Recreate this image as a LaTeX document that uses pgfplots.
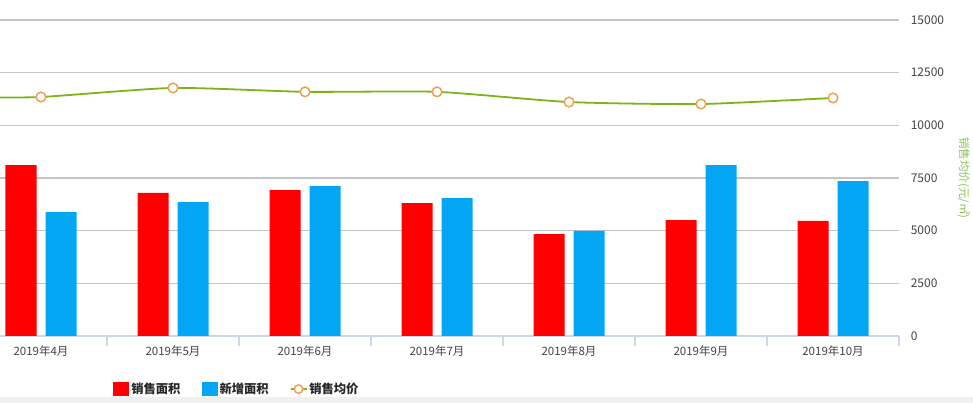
\documentclass[border=0pt]{standalone}
\usepackage{pgfplots}
\pgfplotsset{compat=1.18}
\usepackage{fontspec}
\setmainfont{Noto Sans CJK SC}
\definecolor{barred}{RGB}{255,0,0}
\definecolor{barblue}{RGB}{3,166,242}
\definecolor{linegreen}{RGB}{124,181,24}
\definecolor{mkorange}{RGB}{240,160,80}
\definecolor{gridc}{RGB}{196,196,200}
\definecolor{axc}{RGB}{204,214,235}
\definecolor{labgreen}{RGB}{144,192,96}
\definecolor{tickc}{RGB}{68,68,68}
\begin{document}
\begin{tikzpicture}[x=1pt,y=1pt]
\useasboundingbox (0,0) rectangle (973,403);
\fill[white] (0,0) rectangle (973,403);
\fill[black!6] (0,0) rectangle (973,6);
\clip (0,0) rectangle (973,403);
\begin{axis}[
  at={(-25pt,67pt)}, anchor=south west,
  scale only axis, width=924pt, height=316pt,
  xmin=-0.5, xmax=6.5, ymin=0, ymax=15000,
  axis y line*=right, axis x line*=bottom,
  y axis line style={draw=none},
  x axis line style={draw=axc, line width=1.2pt},
  ytick={0,2500,...,15000},
  scaled y ticks=false,
  yticklabels={0,2500,5000,7500,10000,12500,15000},
  ymajorgrids, major grid style={draw=gridc, line width=1.2pt},
  ytick style={draw=none},
  yticklabel style={anchor=west, xshift=4pt, font=\fontsize{12}{14}\selectfont, text=tickc},
  xtick={0,...,6},
  xticklabels={2019年4月,2019年5月,2019年6月,2019年7月,2019年8月,2019年9月,2019年10月},
  xticklabel style={font=\fontsize{11.5}{13}\selectfont, text=tickc, yshift=-2pt},
  major x tick style={draw=none},
  minor xtick={-0.5,0.5,...,6.5},
  minor x tick style={draw=axc, line width=1.2pt},
  tick align=outside, minor tick length=10pt,
  /pgf/number format/assume math mode=true,
  ylabel={销售均价(元/㎡)},
  ylabel style={at={(axis description cs:1.07,0.5)}, anchor=center, rotate=180, text=labgreen, font=\fontsize{11.5}{13}\selectfont},
  legend style={at={(axis description cs:0.2835,-0.168)}, anchor=center, draw=none, fill=none,
    legend columns=-1, font=\bfseries\fontsize{12.3}{14}\selectfont, text=black!85,
    /tikz/every even column/.append style={column sep=19pt}},
  clip=false,
]
\addplot[ybar, bar width=31pt, bar shift=-20pt, fill=barred, draw=none,
  legend image code/.code={\fill[barred] (0pt,-6.5pt) rectangle (16pt,7pt);}]
  coordinates {(0,8116) (1,6790) (2,6930) (3,6310) (4,4840) (5,5505) (6,5460)};
\addlegendentry{销售面积}
\addplot[ybar, bar width=31pt, bar shift=20pt, fill=barblue, draw=none,
  legend image code/.code={\fill[barblue] (0pt,-6.5pt) rectangle (16pt,7pt);}]
  coordinates {(0,5885) (1,6360) (2,7120) (3,6550) (4,4985) (5,8116) (6,7356)};
\addlegendentry{新增面积}
\addplot[smooth, tension=0.35, draw=linegreen, line width=1.8pt, mark=*,
  mark size=4.8pt, mark options={fill=white, draw=mkorange, line width=1.5pt},
  legend image code/.code={\draw[linegreen, line width=1.6pt] (0pt,0pt) -- (16pt,0pt);
    \draw[mkorange, fill=white, line width=1.5pt] (8pt,0pt) circle (4.2pt);}]
  coordinates {(-0.5,11330) (0,11345) (1,11775) (2,11590) (3,11590) (4,11105) (5,11010) (6,11300)};
\addlegendentry{销售均价}
\end{axis}
\end{tikzpicture}
\end{document}
